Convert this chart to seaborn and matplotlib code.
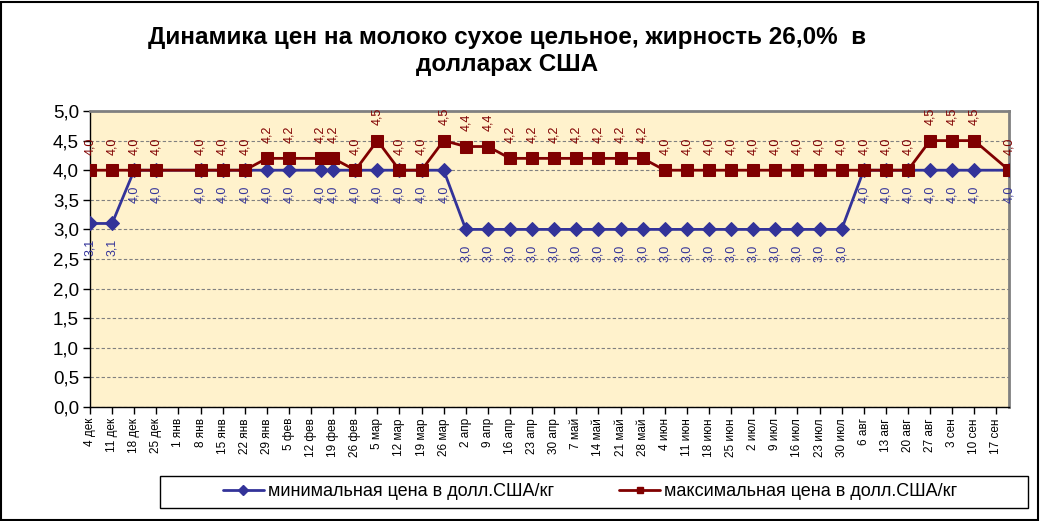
import numpy as np
import pandas as pd
import seaborn as sns
import matplotlib.pyplot as plt
from matplotlib.lines import Line2D
from matplotlib.patches import Rectangle

# observation dates (weekly, with a few irregular ones)
dates = ['2010-12-04', '2010-12-11', '2010-12-18', '2010-12-25', '2011-01-08', '2011-01-15',
         '2011-01-22', '2011-01-29', '2011-02-05', '2011-02-15', '2011-02-19', '2011-02-26',
         '2011-03-05', '2011-03-12', '2011-03-19', '2011-03-26', '2011-04-02', '2011-04-09',
         '2011-04-16', '2011-04-23', '2011-04-30', '2011-05-07', '2011-05-14', '2011-05-21',
         '2011-05-28', '2011-06-04', '2011-06-11', '2011-06-18', '2011-06-25', '2011-07-02',
         '2011-07-09', '2011-07-16', '2011-07-23', '2011-07-30', '2011-08-06', '2011-08-13',
         '2011-08-20', '2011-08-27', '2011-09-03', '2011-09-10', '2011-09-21']

min_price = [3.1, 3.1, 4.0, 4.0, 4.0, 4.0, 4.0, 4.0, 4.0, 4.0, 4.0, 4.0, 4.0, 4.0, 4.0, 4.0,
             3.0, 3.0, 3.0, 3.0, 3.0, 3.0, 3.0, 3.0, 3.0, 3.0, 3.0, 3.0, 3.0, 3.0, 3.0, 3.0,
             3.0, 3.0, 4.0, 4.0, 4.0, 4.0, 4.0, 4.0, 4.0]

max_price = [4.0, 4.0, 4.0, 4.0, 4.0, 4.0, 4.0, 4.2, 4.2, 4.2, 4.2, 4.0, 4.5, 4.0, 4.0, 4.5,
             4.4, 4.4, 4.2, 4.2, 4.2, 4.2, 4.2, 4.2, 4.2, 4.0, 4.0, 4.0, 4.0, 4.0, 4.0, 4.0,
             4.0, 4.0, 4.0, 4.0, 4.0, 4.5, 4.5, 4.5, 4.0]

tick_labels = ['4 дек', '11 дек', '18 дек', '25 дек', '1 янв', '8 янв', '15 янв', '22 янв',
               '29 янв', '5 фев', '12 фев', '19 фев', '26 фев', '5 мар', '12 мар', '19 мар',
               '26 мар', '2 апр', '9 апр', '16 апр', '23 апр', '30 апр', '7 май', '14 май',
               '21 май', '28 май', '4 июн', '11 июн', '18 июн', '25 июн', '2 июл', '9 июл',
               '16 июл', '23 июл', '30 июл', '6 авг', '13 авг', '20 авг', '27 авг', '3 сен',
               '10 сен', '17 сен']

min_label = 'минимальная цена в долл.США/кг'
max_label = 'максимальная цена в долл.США/кг'
title = 'Динамика цен на молоко сухое цельное, жирность 26,0%  в\nдолларах США'

blue = '#333399'
red = '#800000'


def fmt(v):
    return '{:.1f}'.format(v).replace('.', ',')


df = pd.DataFrame({'date': pd.to_datetime(dates), 'min': min_price, 'max': max_price})

sns.set_theme(style='white')
plt.rcParams['font.family'] = ['Liberation Sans', 'DejaVu Sans']
plt.rcParams['text.color'] = 'black'
plt.rcParams['xtick.color'] = 'black'
plt.rcParams['ytick.color'] = 'black'

fig = plt.figure(figsize=(10.41, 5.21), dpi=100)
ax = fig.add_axes([90 / 1041, 1 - 407 / 521, 919 / 1041, 296 / 521])
ax.set_facecolor('#FFF2CC')

sns.lineplot(data=df, x='date', y='min', color=blue, marker='D', markersize=7,
             markeredgecolor=blue, linewidth=2, ax=ax, zorder=3)
sns.lineplot(data=df, x='date', y='max', color=red, marker='s', markersize=8,
             markeredgecolor=red, linewidth=2, ax=ax, zorder=4)

# data labels, rotated like in the original
for d, v in zip(df['date'], df['max']):
    ax.annotate(fmt(v), (d, v), xytext=(0, 11), textcoords='offset points', rotation=90,
                ha='center', va='bottom', fontsize=9, color=red)
for d, v in zip(df['date'], df['min']):
    ax.annotate(fmt(v), (d, v), xytext=(0, -11), textcoords='offset points', rotation=90,
                ha='center', va='top', fontsize=9, color=blue)

ticks = pd.date_range(dates[0], periods=len(tick_labels), freq='7D')
ax.set_xlim(df['date'].iloc[0], df['date'].iloc[-1])
ax.set_xticks(ticks)
ax.set_xticklabels(tick_labels, rotation=90, fontsize=8.5)

yticks = np.arange(0, 5.01, 0.5)
ax.set_ylim(0, 5)
ax.set_yticks(yticks)
ax.set_yticklabels([fmt(y) for y in yticks], fontsize=13.5)

ax.set_xlabel('')
ax.set_ylabel('')
ax.yaxis.grid(True, linestyle=(0, (3, 2)), color='#808080', linewidth=0.8)
ax.xaxis.grid(False)
ax.tick_params(axis='both', bottom=True, left=True, direction='out', length=5,
               width=1, color='black', pad=3)

for side in ['left', 'bottom']:
    ax.spines[side].set_color('black')
    ax.spines[side].set_linewidth(1)
for side in ['top', 'right']:
    ax.spines[side].set_color('#808080')
    ax.spines[side].set_linewidth(2)

fig.text(0.487, 0.902, title, ha='center', va='center', fontsize=17.5,
         fontweight='bold', linespacing=1.2)

# legend box
fig.patches.append(Rectangle((160 / 1041, 1 - 508 / 521), 868 / 1041, 32 / 521,
                             transform=fig.transFigure, fill=False,
                             edgecolor='black', linewidth=1))
handles = [Line2D([], [], color=blue, marker='D', markersize=5, linewidth=2),
           Line2D([], [], color=red, marker='s', markersize=5, linewidth=2)]
fig.legend(handles, [min_label, max_label], loc='center',
           bbox_to_anchor=(590 / 1041, 1 - 492 / 521), ncol=2, frameon=False,
           fontsize=13, handlelength=2.3, handletextpad=0.2, columnspacing=3.6)

# outer chart border
fig.patches.append(Rectangle((0.001, 0.002), 0.996, 0.995, transform=fig.transFigure,
                             fill=False, edgecolor='black', linewidth=1.5))

fig.savefig('out.png', dpi=100)
